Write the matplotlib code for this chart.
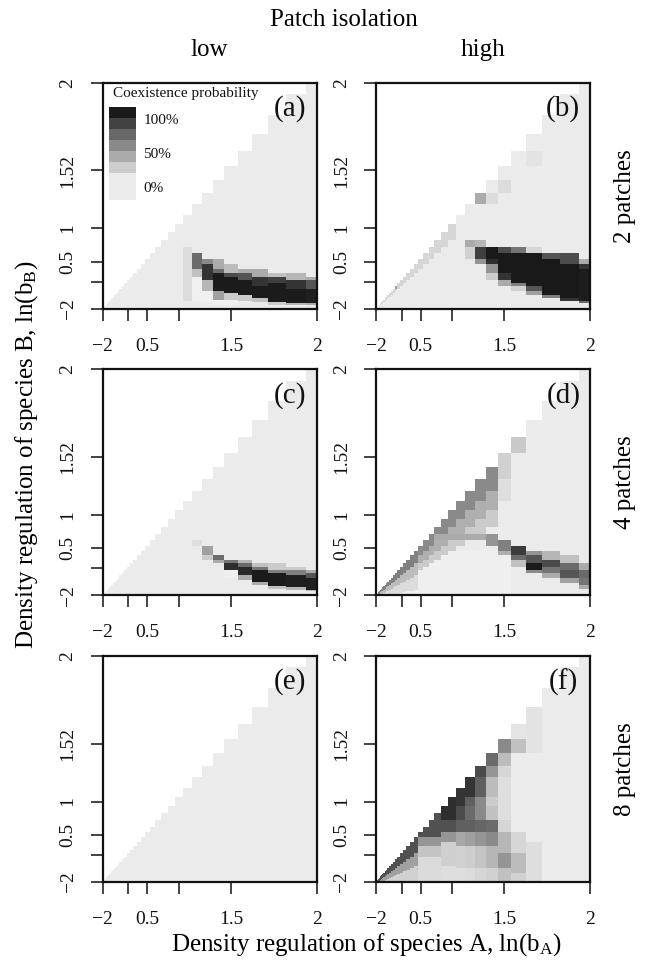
import numpy as np
import matplotlib
matplotlib.use("Agg")
import matplotlib.pyplot as plt
from matplotlib.colors import LinearSegmentedColormap, Normalize
from matplotlib.patches import Rectangle

plt.rcParams['font.family'] = ['Liberation Serif', 'DejaVu Serif']
plt.rcParams['mathtext.fontset'] = 'custom'
plt.rcParams['mathtext.rm'] = 'Liberation Serif'
plt.rcParams['mathtext.it'] = 'Liberation Serif:italic'

# ---------------- data ----------------
# simulated ln(b) grid (both species)
LN_B = np.round(np.arange(-2.0, 2.0001, 0.1), 2)

X_TICKS = [-2, 0, 0.5, 1, 1.5, 2]
X_TICK_LABELS = ['\u22122', '', '0.5', '', '1.5', '2']
Y_TICKS = [-2, 0, 0.5, 1, 1.52, 2]
Y_TICK_LABELS = ['\u22122', '', '0.5', '1', '1.52', '2']

PANEL_LABELS = ['(a)', '(b)', '(c)', '(d)', '(e)', '(f)']
COL_TITLES = ['low', 'high']
ROW_TITLES = ['2 patches', '4 patches', '8 patches']

LEGEND_COLORS = ['#1a1a1a', '#424242', '#686868', '#8a8a8a', '#ababab', '#cdcdcd', '#ebebeb']
LEGEND_TEXT = ['100%', '50%', '0%']

# coexistence probability patches:
# ('r', lnbA_lo, lnbA_hi, lnbB_lo, lnbB_hi, p)   rectangular block
# ('d', lnbA_lo, lnbA_hi, diff_lo, diff_hi, p)   strip below diagonal (lnbA - lnbB)
PANEL_A = [
    ('r', 1.05, 1.15, -0.95, 0.75, 0.07),
    ('r', 1.15, 1.25, 0.35, 0.65, 0.6), ('r', 1.15, 1.25, 0.15, 0.35, 0.2),
    ('r', 1.15, 1.25, -0.9, 0.15, -0.03),
    ('r', 1.25, 1.35, 0.45, 0.55, 0.45), ('r', 1.25, 1.35, 0.05, 0.45, 0.85),
    ('r', 1.25, 1.35, -0.35, 0.05, 0.25), ('r', 1.25, 1.35, -1.0, -0.35, -0.03),
    ('r', 1.35, 1.45, 0.35, 0.55, 0.3), ('r', 1.35, 1.45, 0.25, 0.35, 0.6),
    ('r', 1.35, 1.45, -0.35, 0.25, 0.97), ('r', 1.35, 1.45, -0.85, -0.35, 0.35),
    ('r', 1.35, 1.45, -1.3, -0.85, -0.03),
    ('r', 1.45, 1.55, 0.25, 0.45, 0.22), ('r', 1.45, 1.55, 0.15, 0.25, 0.75),
    ('r', 1.45, 1.55, -0.45, 0.15, 0.97), ('r', 1.45, 1.55, -0.85, -0.45, 0.15),
    ('r', 1.45, 1.55, -1.3, -0.85, -0.03),
    ('r', 1.55, 1.65, 0.25, 0.35, 0.3), ('r', 1.55, 1.65, 0.05, 0.25, 0.7),
    ('r', 1.55, 1.65, -0.55, 0.05, 0.97), ('r', 1.55, 1.65, -0.95, -0.55, 0.15),
    ('r', 1.65, 1.75, 0.15, 0.35, 0.3), ('r', 1.65, 1.75, -0.15, 0.15, 0.85),
    ('r', 1.65, 1.75, -0.75, -0.15, 0.97), ('r', 1.65, 1.75, -1.05, -0.75, 0.2),
    ('r', 1.75, 1.85, 0.15, 0.25, 0.2), ('r', 1.75, 1.85, -0.05, 0.15, 0.8),
    ('r', 1.75, 1.85, -1.05, -0.05, 0.97), ('r', 1.75, 1.85, -1.35, -1.05, 0.15),
    ('r', 1.85, 1.95, 0.05, 0.25, 0.25), ('r', 1.85, 1.95, -0.25, 0.05, 0.85),
    ('r', 1.85, 1.95, -1.15, -0.25, 0.97), ('r', 1.85, 1.95, -1.35, -1.15, 0.25),
    ('r', 1.95, 2.05, 0.05, 0.15, 0.3), ('r', 1.95, 2.05, -0.25, 0.05, 0.7),
    ('r', 1.95, 2.05, -1.15, -0.25, 0.95), ('r', 1.95, 2.05, -1.35, -1.15, 0.3),
]

PANEL_B = [
    ('d', -1.65, 1.05, 0.0, 0.15, 0.1),
    ('r', -0.25, -0.15, -0.25, -0.15, 0.35),
    ('r', 1.25, 1.35, 1.25, 1.35, 0.3), ('r', 1.35, 1.45, 1.25, 1.35, 0.07),
    ('r', 1.45, 1.55, 1.35, 1.45, 0.07), ('r', 1.65, 1.75, 1.55, 1.65, 0.04),
    ('r', 1.15, 1.25, 0.75, 0.85, 0.3), ('r', 1.15, 1.25, 0.55, 0.75, 0.12),
    ('r', 1.25, 1.35, 0.75, 0.85, 0.25), ('r', 1.25, 1.35, 0.55, 0.75, 0.8),
    ('r', 1.25, 1.35, 0.45, 0.55, 0.4),
    ('r', 1.35, 1.45, 0.55, 0.75, 0.98), ('r', 1.35, 1.45, 0.45, 0.55, 0.88),
    ('r', 1.35, 1.45, 0.25, 0.45, 0.4), ('r', 1.35, 1.45, 0.05, 0.25, 0.15),
    ('r', 1.45, 1.55, 0.65, 0.75, 0.75), ('r', 1.45, 1.55, 0.25, 0.65, 0.98),
    ('r', 1.45, 1.55, 0.05, 0.25, 0.85), ('r', 1.45, 1.55, -0.15, 0.05, 0.3),
    ('r', 1.55, 1.65, 0.65, 0.75, 0.55), ('r', 1.55, 1.65, -0.05, 0.65, 0.98),
    ('r', 1.55, 1.65, -0.15, -0.05, 0.5), ('r', 1.55, 1.65, -0.35, -0.15, 0.12),
    ('r', 1.65, 1.75, 0.65, 0.75, 0.1), ('r', 1.65, 1.75, -0.15, 0.65, 0.98),
    ('r', 1.65, 1.75, -0.35, -0.15, 0.7), ('r', 1.65, 1.75, -0.55, -0.35, 0.35),
    ('r', 1.75, 1.85, 0.55, 0.65, 0.7), ('r', 1.75, 1.85, -0.55, 0.55, 0.98),
    ('r', 1.75, 1.85, -0.75, -0.55, 0.5),
    ('r', 1.85, 1.95, 0.45, 0.65, 0.75), ('r', 1.85, 1.95, -0.75, 0.45, 0.98),
    ('r', 1.85, 1.95, -0.95, -0.75, 0.85),
    ('r', 1.95, 2.05, 0.45, 0.55, 0.3), ('r', 1.95, 2.05, 0.35, 0.45, 0.85),
    ('r', 1.95, 2.05, -0.95, 0.35, 0.96), ('r', 1.95, 2.05, -1.15, -0.95, 0.6),
]

PANEL_C = [
    ('r', 1.15, 1.25, 0.55, 0.65, 0.06),
    ('r', 1.25, 1.35, 0.35, 0.55, 0.35), ('r', 1.25, 1.35, 0.25, 0.35, 0.15),
    ('r', 1.35, 1.45, 0.25, 0.35, 0.6), ('r', 1.35, 1.45, 0.15, 0.25, 0.3),
    ('r', 1.45, 1.55, 0.15, 0.25, 0.55), ('r', 1.45, 1.55, -0.05, 0.15, 0.88),
    ('r', 1.45, 1.55, -0.35, -0.05, -0.02),
    ('r', 1.55, 1.65, 0.15, 0.25, 0.25), ('r', 1.55, 1.65, 0.05, 0.15, 0.6),
    ('r', 1.55, 1.65, -0.25, 0.05, 0.9), ('r', 1.55, 1.65, -0.45, -0.25, 0.3),
    ('r', 1.65, 1.75, 0.05, 0.15, 0.2), ('r', 1.65, 1.75, -0.05, 0.05, 0.55),
    ('r', 1.65, 1.75, -0.55, -0.05, 0.97), ('r', 1.65, 1.75, -0.75, -0.55, 0.3),
    ('r', 1.75, 1.85, 0.0, 0.15, 0.15), ('r', 1.75, 1.85, -0.15, 0.0, 0.5),
    ('r', 1.75, 1.85, -0.85, -0.15, 0.97), ('r', 1.75, 1.85, -1.05, -0.85, 0.2),
    ('r', 1.85, 1.95, -0.05, 0.1, 0.15), ('r', 1.85, 1.95, -0.25, -0.05, 0.5),
    ('r', 1.85, 1.95, -0.9, -0.25, 0.95), ('r', 1.85, 1.95, -1.1, -0.9, 0.25),
    ('r', 1.95, 2.05, -0.15, 0.0, 0.3), ('r', 1.95, 2.05, -0.35, -0.15, 0.7),
    ('r', 1.95, 2.05, -1.15, -0.35, 0.95), ('r', 1.95, 2.05, -1.35, -1.15, 0.25),
]

PANEL_D = [
    ('r', -2.05, 1.55, -2.05, 0.45, -0.02),
    ('d', -2.05, 0.45, 0.0, 0.25, 0.5), ('d', -2.05, 0.45, 0.25, 0.7, 0.22),
    ('d', -2.05, 0.45, 0.7, 1.6, 0.07),
    ('d', 0.45, 1.45, 0.0, 0.15, 0.45), ('d', 0.45, 1.45, 0.15, 0.35, 0.28),
    ('d', 0.45, 1.45, 0.35, 0.55, 0.15),
    ('d', 1.45, 1.55, 0.0, 0.15, 0.12), ('d', 1.55, 1.65, 0.0, 0.05, 0.16),
    ('d', 1.45, 1.55, 0.15, 0.35, 0.06),
    ('r', 0.75, 1.35, 0.65, 0.75, 0.3),
    ('r', 1.35, 1.45, 0.55, 0.75, 0.4),
    ('r', 1.45, 1.55, 0.45, 0.65, 0.5), ('r', 1.45, 1.55, 0.35, 0.45, 0.28),
    ('r', 1.55, 1.65, 0.35, 0.55, 0.82), ('r', 1.55, 1.65, 0.25, 0.35, 0.6),
    ('r', 1.55, 1.65, 0.1, 0.25, 0.2),
    ('r', 1.65, 1.75, 0.35, 0.45, 0.4), ('r', 1.65, 1.75, 0.15, 0.35, 0.7),
    ('r', 1.65, 1.75, 0.0, 0.15, 0.97), ('r', 1.65, 1.75, -0.15, 0.0, 0.45),
    ('r', 1.75, 1.85, 0.25, 0.45, 0.25), ('r', 1.75, 1.85, 0.05, 0.25, 0.75),
    ('r', 1.75, 1.85, -0.15, 0.05, 0.55), ('r', 1.75, 1.85, -0.35, -0.15, 0.3),
    ('r', 1.85, 1.95, 0.15, 0.35, 0.2), ('r', 1.85, 1.95, -0.05, 0.15, 0.6),
    ('r', 1.85, 1.95, -0.35, -0.05, 0.7), ('r', 1.85, 1.95, -0.65, -0.35, 0.35),
    ('r', 1.95, 2.05, 0.0, 0.15, 0.3), ('r', 1.95, 2.05, -0.35, 0.0, 0.6),
    ('r', 1.95, 2.05, -0.75, -0.35, 0.55), ('r', 1.95, 2.05, -1.05, -0.75, 0.3),
]

PANEL_E = []

PANEL_F = [
    ('d', -2.05, 0.45, 0.0, 0.35, 0.72), ('d', -2.05, 0.45, 0.35, 0.9, 0.35),
    ('d', -2.05, 0.45, 0.9, 2.5, 0.12),
    ('r', 0.45, 0.85, 0.45, 0.85, 0.72), ('r', 0.45, 0.85, 0.25, 0.45, 0.4),
    ('r', 0.45, 0.85, 0.0, 0.25, 0.18), ('r', 0.45, 0.85, -2.05, 0.0, 0.08),
    ('r', 0.85, 1.05, 0.75, 1.05, 0.88), ('r', 0.85, 1.05, 0.55, 0.75, 0.72),
    ('r', 0.85, 1.05, 0.35, 0.55, 0.4), ('r', 0.85, 1.05, -0.45, 0.35, 0.13),
    ('r', 0.85, 1.05, -2.05, -0.45, 0.06),
    ('r', 1.05, 1.15, 0.95, 1.15, 0.85), ('r', 1.05, 1.15, 0.75, 0.95, 0.75),
    ('r', 1.05, 1.15, 0.55, 0.75, 0.65), ('r', 1.05, 1.15, 0.25, 0.55, 0.32),
    ('r', 1.05, 1.15, -0.55, 0.25, 0.12), ('r', 1.05, 1.15, -2.05, -0.55, 0.06),
    ('r', 1.15, 1.25, 1.05, 1.25, 0.85), ('r', 1.15, 1.25, 0.95, 1.05, 0.65),
    ('r', 1.15, 1.25, 0.75, 0.95, 0.6), ('r', 1.15, 1.25, 0.55, 0.75, 0.65),
    ('r', 1.15, 1.25, 0.25, 0.55, 0.35), ('r', 1.15, 1.25, -0.55, 0.25, 0.14),
    ('r', 1.15, 1.25, -2.05, -0.55, 0.07),
    ('r', 1.25, 1.35, 1.25, 1.35, 0.75), ('r', 1.25, 1.35, 1.05, 1.25, 0.65),
    ('r', 1.25, 1.35, 0.75, 1.05, 0.45), ('r', 1.25, 1.35, 0.55, 0.75, 0.62),
    ('r', 1.25, 1.35, 0.25, 0.55, 0.4), ('r', 1.25, 1.35, -0.55, 0.25, 0.18),
    ('r', 1.25, 1.35, -2.05, -0.55, 0.1),
    ('r', 1.35, 1.45, 1.35, 1.45, 0.6), ('r', 1.35, 1.45, 1.25, 1.35, 0.4),
    ('r', 1.35, 1.45, 1.05, 1.25, 0.22), ('r', 1.35, 1.45, 0.95, 1.05, 0.15),
    ('r', 1.35, 1.45, 0.75, 0.95, 0.2), ('r', 1.35, 1.45, 0.55, 0.75, 0.6),
    ('r', 1.35, 1.45, 0.25, 0.55, 0.45), ('r', 1.35, 1.45, -0.55, 0.25, 0.25),
    ('r', 1.35, 1.45, -2.05, -0.55, 0.12),
    ('r', 1.45, 1.55, 1.45, 1.55, 0.45), ('r', 1.45, 1.55, 1.35, 1.45, 0.22),
    ('r', 1.45, 1.55, 1.25, 1.35, 0.1), ('r', 1.45, 1.55, 0.75, 1.25, 0.06),
    ('r', 1.45, 1.55, 0.55, 0.75, 0.1), ('r', 1.45, 1.55, 0.05, 0.55, 0.25),
    ('r', 1.45, 1.55, -0.55, 0.05, 0.4), ('r', 1.45, 1.55, -2.05, -0.55, 0.2),
    ('r', 1.55, 1.65, 1.45, 1.55, 0.2), ('r', 1.55, 1.65, 1.55, 1.65, 0.03),
    ('r', 1.55, 1.65, 0.05, 0.55, 0.1), ('r', 1.55, 1.65, -0.85, 0.05, 0.22),
    ('r', 1.55, 1.65, -2.05, -0.85, 0.12),
    ('r', 1.65, 1.75, 1.45, 1.75, 0.04), ('r', 1.65, 1.75, -2.05, 0.35, 0.06),
]

PANELS = [PANEL_A, PANEL_B, PANEL_C, PANEL_D, PANEL_E, PANEL_F]

# ---------------- build cell values ----------------
half = np.diff(LN_B) / 2.0
edges_ln = np.concatenate([[LN_B[0]], LN_B[:-1] + half, [LN_B[-1]]])
edges_b = np.exp(edges_ln)
eps = 1e-6


def build(layers):
    xa = LN_B[np.newaxis, :]
    yb = LN_B[:, np.newaxis]
    z = np.where(yb <= xa + eps, 0.0, np.nan)
    z = np.broadcast_to(z, (len(LN_B), len(LN_B))).copy()
    valid = ~np.isnan(z)
    for lay in layers:
        kind, x0, x1, a0, a1, p = lay
        inx = (xa >= x0 - eps) & (xa < x1 - eps)
        if kind == 'r':
            sel = inx & (yb >= a0 - eps) & (yb < a1 - eps)
        else:
            d = xa - yb
            sel = inx & (d >= a0 - eps) & (d < a1 - eps)
        z[sel & valid] = p
    return np.ma.masked_invalid(z)


cmap = LinearSegmentedColormap.from_list(
    'coex', [(0.0, '#fbfbfb'), (0.1 / 1.1, '#ebebeb'), (1.0, '#151515')])
norm = Normalize(vmin=-0.1, vmax=1.0)

# ---------------- figure ----------------
W, H = 648, 967
fig = plt.figure(figsize=(W / 100, H / 100), dpi=100)

col_left = [102.7, 376.0]
row_top = [82.7, 369.3, 656.0]
ax_w, ax_h = 214.0, 226.0

xt = np.exp(X_TICKS)
yt = np.exp(Y_TICKS)

for k, layers in enumerate(PANELS):
    r, c = divmod(k, 2)
    ax = fig.add_axes([col_left[c] / W, 1 - (row_top[r] + ax_h) / H, ax_w / W, ax_h / H])
    z = build(layers)
    ax.pcolormesh(edges_b, edges_b, z, cmap=cmap, norm=norm, shading='flat',
                  edgecolors='none', antialiased=False)
    ax.set_xlim(np.exp(-2), np.exp(2))
    ax.set_ylim(np.exp(-2), np.exp(2))
    ax.set_xticks(xt)
    ax.set_xticklabels(X_TICK_LABELS)
    ax.set_yticks(yt)
    ax.set_yticklabels(Y_TICK_LABELS, rotation=90, va='center')
    ax.tick_params(axis='both', direction='out', length=8.8, width=1.1,
                   labelsize=14, color='#111111', labelcolor='#111111')
    ax.tick_params(axis='x', pad=12)
    ax.tick_params(axis='y', pad=10)
    for s in ax.spines.values():
        s.set_linewidth(1.6)
        s.set_color('#111111')
    ax.text(0.875, 0.885, PANEL_LABELS[k], transform=ax.transAxes, ha='center',
            va='center', fontsize=21, color='#111111')

    if k == 0:
        bx0, bx1 = 0.029, 0.156
        bh = 0.0488
        top = 0.8935
        for i, colr in enumerate(LEGEND_COLORS[:-1]):
            ax.add_patch(Rectangle((bx0, top - (i + 1) * bh), bx1 - bx0, bh,
                                   transform=ax.transAxes, facecolor=colr,
                                   edgecolor='none', zorder=5))
        ax.add_patch(Rectangle((bx0, 0.479), bx1 - bx0, top - 6 * bh - 0.479,
                               transform=ax.transAxes, facecolor=LEGEND_COLORS[-1],
                               edgecolor='none', zorder=5))
        ax.text(0.048, 0.952, 'Coexistence probability', transform=ax.transAxes,
                ha='left', va='center', fontsize=11, color='#111111', zorder=6)
        for lab, yy in zip(LEGEND_TEXT, [0.834, 0.682, 0.534]):
            ax.text(0.19, yy, lab, transform=ax.transAxes, ha='left', va='center',
                    fontsize=11, color='#111111', zorder=6)

# outer texts
fig.text(344 / W, 1 - 20 / H, 'Patch isolation', ha='center', va='center', fontsize=18)
for c, t in enumerate(COL_TITLES):
    fig.text((col_left[c] + ax_w / 2) / W, 1 - 50 / H, t, ha='center', va='center', fontsize=18)
for r, t in enumerate(ROW_TITLES):
    fig.text(625 / W, 1 - (row_top[r] + ax_h / 2) / H, t, ha='center', va='center',
             rotation=90, fontsize=18)
fig.text(366 / W, 1 - 945 / H, 'Density regulation of species A, ln(b$_{\\rm A}$)',
         ha='center', va='center', fontsize=18)
fig.text(27 / W, 1 - 455 / H, 'Density regulation of species B, ln(b$_{\\rm B}$)',
         ha='center', va='center', rotation=90, fontsize=18)

fig.savefig('out.png', dpi=100, facecolor='white')
